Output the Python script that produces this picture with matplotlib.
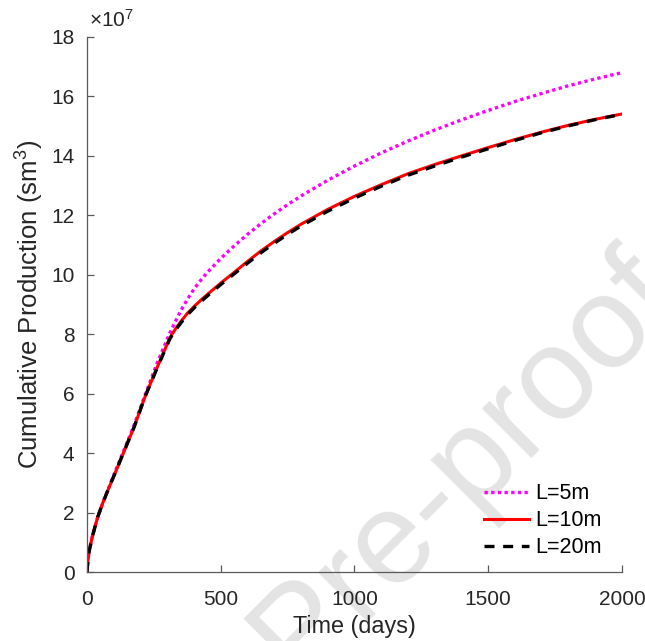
import numpy as np
import matplotlib
matplotlib.use('Agg')
import matplotlib.pyplot as plt

plt.rcParams['font.family'] = ['Liberation Sans', 'DejaVu Sans']
plt.rcParams['mathtext.fontset'] = 'custom'
plt.rcParams['mathtext.rm'] = 'Liberation Sans'
plt.rcParams['mathtext.it'] = 'Liberation Sans:italic'

# Cumulative production (x1e7 sm3) vs time for three fracture spacings
days = [0, 3, 8, 20, 40, 60, 85, 113, 145, 175, 217, 263, 310, 330, 350, 375, 400, 420, 450, 500,
        550, 600, 650, 700, 750, 800, 900, 1000, 1100, 1200, 1300, 1400, 1500, 1600, 1700, 1800, 1900, 2000]
cum_5m = [0, 0.35, 0.7, 1.2, 1.85, 2.35, 2.92, 3.55, 4.25, 4.92, 5.95, 7.05, 8.05, 8.42, 8.78, 9.17, 9.52, 9.76, 10.08, 10.55,
          10.97, 11.36, 11.72, 12.05, 12.36, 12.65, 13.18, 13.66, 14.1, 14.5, 14.87, 15.21, 15.53, 15.83, 16.1, 16.36, 16.59, 16.8]
cum_10m = [0, 0.35, 0.7, 1.2, 1.85, 2.35, 2.9, 3.5, 4.2, 4.85, 5.9, 6.9, 7.88, 8.17, 8.42, 8.7, 8.93, 9.1, 9.34, 9.72,
           10.08, 10.45, 10.8, 11.12, 11.42, 11.7, 12.2, 12.64, 13.03, 13.4, 13.71, 14.0, 14.28, 14.55, 14.8, 15.03, 15.23, 15.41]
cum_20m = [0, 0.35, 0.7, 1.2, 1.85, 2.35, 2.9, 3.5, 4.2, 4.85, 5.9, 6.88, 7.85, 8.13, 8.37, 8.65, 8.88, 9.05, 9.29, 9.67,
           10.03, 10.39, 10.74, 11.06, 11.36, 11.64, 12.14, 12.58, 12.98, 13.35, 13.66, 13.96, 14.24, 14.52, 14.78, 15.01, 15.22, 15.4]

text_col = '#262626'
axis_col = '#5a5a5a'

fig = plt.figure(figsize=(6.45, 6.41), dpi=100)
ax = fig.add_axes([0.1349, 0.1076, 0.8294, 0.8347])
ax.patch.set_alpha(0)

# watermark behind the plot
fig.text(0.4714, 0.006, 'Journal Pre-proof', fontsize=94, color='#e4e4e4',
         rotation=45, rotation_mode='anchor', ha='center', va='center', zorder=-1)

ax.plot(days, cum_5m, color='#ff00ff', lw=2.4, dashes=(1.0, 1.0), label='L=5m')
ax.plot(days, cum_10m, color='#ff0000', lw=2.2, label='L=10m')
ax.plot(days, cum_20m, color='black', lw=2.4, dashes=(3.0, 2.6), label='L=20m')

ax.set_xlim(0, 2000)
ax.set_ylim(0, 18)
ax.set_xticks([0, 500, 1000, 1500, 2000])
ax.set_yticks(np.arange(0, 19, 2))

for s in ['top', 'right']:
    ax.spines[s].set_visible(False)
for s in ['left', 'bottom']:
    ax.spines[s].set_color(axis_col)
    ax.spines[s].set_linewidth(0.9)

ax.tick_params(direction='in', length=5, width=0.9, color=axis_col,
               labelsize=15, labelcolor=text_col)
ax.tick_params(axis='x', pad=13)
ax.tick_params(axis='y', pad=9)

# exponent shown above the y axis
ax.text(0.003, 1.012, r'$\times$10$^7$', transform=ax.transAxes, fontsize=15,
        color=text_col, ha='left', va='bottom')

ax.set_xlabel('Time (days)', fontsize=16.8, color=text_col, labelpad=4)
ax.set_ylabel('Cumulative Production (sm$^3$)', fontsize=18.5, color=text_col, labelpad=4)

ax.legend(loc='lower right', bbox_to_anchor=(0.989, 0.0), frameon=False, fontsize=15.5,
          handlelength=2.1, handletextpad=0.3, labelspacing=0.27, borderaxespad=0.25)

fig.savefig('out.png', dpi=100)
